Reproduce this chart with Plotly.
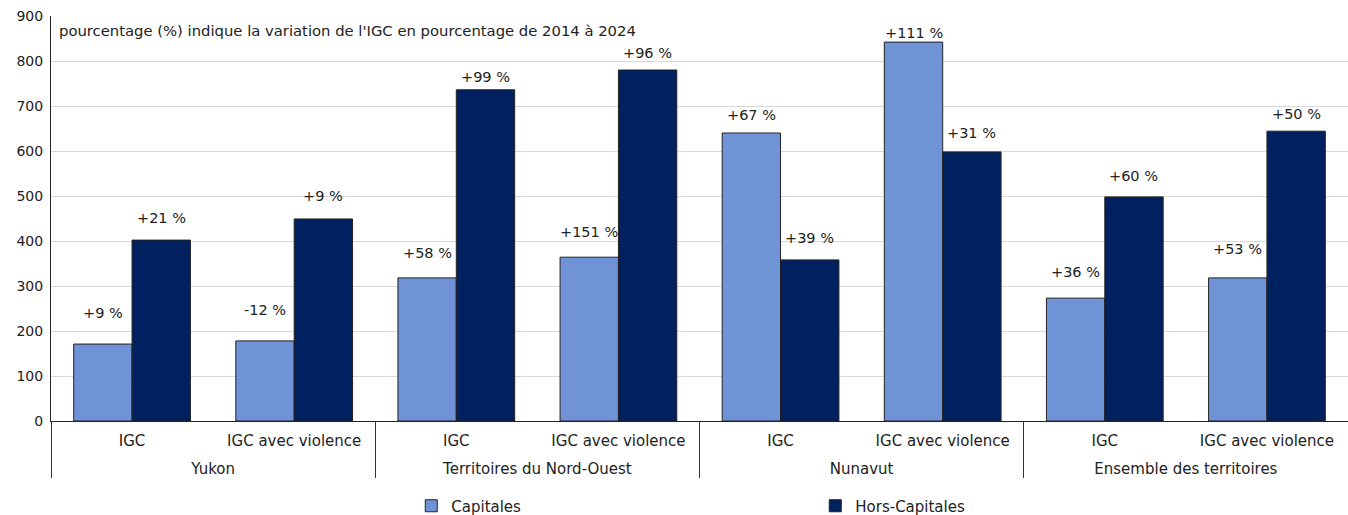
import plotly.graph_objects as go

regions = ["Yukon", "Yukon", "Territoires du Nord-Ouest", "Territoires du Nord-Ouest",
           "Nunavut", "Nunavut", "Ensemble des territoires", "Ensemble des territoires"]
indices = ["IGC", "IGC avec violence"] * 4
region_names = ["Yukon", "Territoires du Nord-Ouest", "Nunavut", "Ensemble des territoires"]
capitales = [171, 178, 318, 364, 640, 842, 273, 318]
hors_capitales = [402, 449, 736, 780, 358, 598, 498, 644]
pct_capitales = ["+9 %", "-12 %", "+58 %", "+151 %", "+67 %", "+111 %", "+36 %", "+53 %"]
pct_hors = ["+21 %", "+9 %", "+99 %", "+96 %", "+39 %", "+31 %", "+60 %", "+50 %"]
y_ticks = [0, 100, 200, 300, 400, 500, 600, 700, 800, 900]
note = "pourcentage (%) indique la variation de l'IGC en pourcentage de 2014 à 2024"

# label gap above each bar (pixels, style only)
gap_cap = [31, 31, 25, 25, 18, 9, 26, 29]
gap_hors = [22, 23, 13, 17, 22, 19, 21, 17]

FONT = "DejaVu Sans"
C_CAP = "#7092d6"
C_HORS = "#00205f"
TXT = "#222222"

n = len(indices)
pos = list(range(n))
region_pos = [2 * k + 0.5 for k in range(len(region_names))]
divider_pos = [2 * k - 0.5 for k in range(len(region_names))]

fig = go.Figure()
fig.add_trace(go.Bar(x=[regions, indices], y=capitales, name="Capitales",
                     marker=dict(color=C_CAP, line=dict(color="#222222", width=1))))
fig.add_trace(go.Bar(x=[regions, indices], y=hors_capitales, name="Hors-Capitales",
                     marker=dict(color=C_HORS, line=dict(color="#222222", width=1))))
# invisible helper traces on overlay axes (labels / dividers)
for ax in ["x2", "x3", "x4"]:
    fig.add_trace(go.Scatter(x=[0], y=[0], xaxis=ax, mode="markers",
                             marker=dict(opacity=0), showlegend=False, hoverinfo="skip"))

bargap = 0.28
half = (1 - bargap) / 4
for i in range(n):
    fig.add_annotation(x=i - half, y=capitales[i], xref="x2", yref="y", text=pct_capitales[i],
                       showarrow=False, yshift=gap_cap[i], yanchor="middle",
                       font=dict(family=FONT, size=14.5, color=TXT))
    fig.add_annotation(x=i + half, y=hors_capitales[i], xref="x2", yref="y", text=pct_hors[i],
                       showarrow=False, yshift=gap_hors[i], yanchor="middle",
                       font=dict(family=FONT, size=14.5, color=TXT))

fig.add_annotation(x=0, y=1, xref="paper", yref="paper", xanchor="left", yanchor="top",
                   xshift=6, yshift=-4, text=note, showarrow=False,
                   font=dict(family=FONT, size=14.8, color=TXT))

rng = [-0.5, n - 0.5]
fig.update_layout(
    width=1348, height=515,
    margin=dict(l=51, r=0, t=16, b=94),
    paper_bgcolor="white", plot_bgcolor="white",
    barmode="group", bargap=bargap, bargroupgap=0,
    font=dict(family=FONT, size=14, color=TXT),
    xaxis=dict(type="multicategory", showline=True, linecolor="#222", linewidth=1,
               showdividers=False, showticklabels=False, automargin=False, ticks=""),
    # level 1 labels (indices)
    xaxis2=dict(overlaying="x", range=rng, tickvals=pos, ticktext=indices, showgrid=False,
                zeroline=False, ticks="", ticklabelstandoff=9, automargin=False,
                tickfont=dict(family=FONT, size=15, color=TXT)),
    # level 2 labels (regions)
    xaxis3=dict(overlaying="x", range=rng, tickvals=region_pos, ticktext=region_names,
                showgrid=False, zeroline=False, ticks="", ticklabelstandoff=37, automargin=False,
                tickfont=dict(family=FONT, size=15, color=TXT)),
    # group dividers
    xaxis4=dict(overlaying="x", range=rng, tickvals=divider_pos, showticklabels=False,
                showgrid=False, zeroline=False, ticks="outside", ticklen=56, tickwidth=1,
                tickcolor="#333", automargin=False),
    yaxis=dict(range=[0, 900], tickvals=y_ticks, showgrid=True, gridcolor="#d9d9d9",
               showline=True, linecolor="#222", linewidth=1, zeroline=False,
               automargin=False, ticklabelstandoff=4,
               tickfont=dict(family=FONT, size=14, color=TXT), ticks=""),
    legend=dict(orientation="h", x=(411 - 51) / 1296, xanchor="left",
                yref="container", y=(515 - 506) / 515, yanchor="middle",
                entrywidth=359, entrywidthmode="pixels", itemwidth=30,
                font=dict(family=FONT, size=15, color=TXT)),
)

post = ("var gd=document.getElementById('{plot_id}');"
        "document.body.style.margin='0';document.body.style.overflow='hidden';"
        "Plotly.Plots.resize(gd);")
fig.write_html("out.html", post_script=post, config={"displayModeBar": False})
